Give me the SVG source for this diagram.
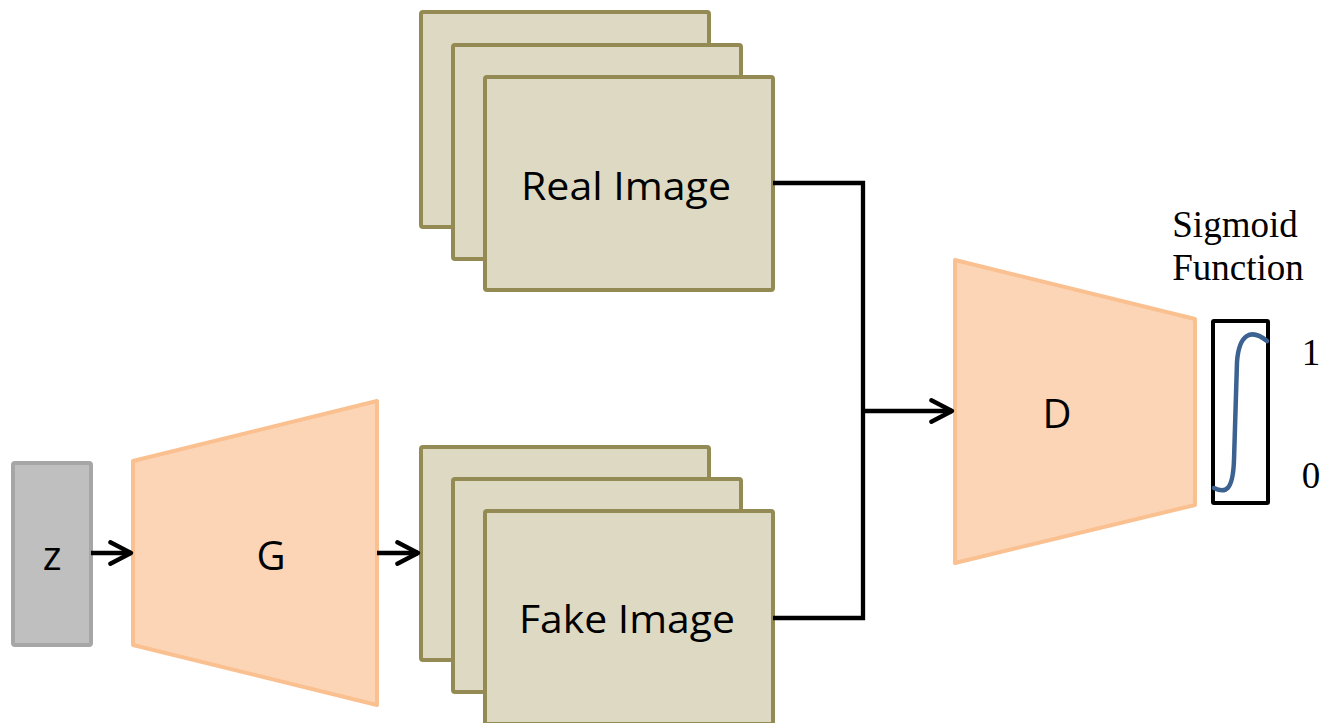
<svg xmlns="http://www.w3.org/2000/svg" width="1323" height="723" viewBox="0 0 1323 723">
  <style>
    .sans { font-family: "Open Sans", "Liberation Sans", sans-serif; fill: #000; }
    .serif { font-family: "Liberation Serif", "Times New Roman", serif; fill: #000; }
    .frame { fill: #ddd9c3; stroke: #948a54; stroke-width: 4; }
    .net { fill: #fbd5b5; stroke: #fac090; stroke-width: 4; stroke-linejoin: round; }
    .wire { fill: none; stroke: #000; stroke-width: 4.3; stroke-linejoin: miter; }
    .arrow { fill: none; stroke: #000; stroke-width: 4.3; marker-end: url(#chevron); }
  </style>
  <defs>
    <marker id="chevron" viewBox="0 0 12 12" refX="10.8" refY="6" markerWidth="6" markerHeight="6" markerUnits="strokeWidth" orient="auto">
      <path d="M1.2,1 L10.8,6 L1.2,11" fill="none" stroke="#000" stroke-width="2" stroke-linecap="round" stroke-linejoin="round"/>
    </marker>
  </defs>
  <rect width="1323" height="723" fill="#fff"/>

  <!-- latent input -->
  <g id="z">
    <rect x="13" y="463" width="78" height="182" rx="2" fill="#bfbfbf" stroke="#a6a6a6" stroke-width="4"/>
    <text x="52" y="570" class="sans" font-size="40" text-anchor="middle">z</text>
  </g>

  <!-- generator -->
  <g id="G">
    <polygon class="net" points="133,461 377,401 377,705 133,645"/>
    <text x="271" y="570" class="sans" font-size="40" text-anchor="middle">G</text>
  </g>

  <!-- stack of real images -->
  <g id="real">
    <rect class="frame" x="421" y="12" width="288" height="215" rx="2"/>
    <rect class="frame" x="453" y="45" width="288" height="214" rx="2"/>
    <rect class="frame" x="485" y="77" width="288" height="213" rx="2"/>
    <text x="626" y="200" class="sans" font-size="39" text-anchor="middle" textLength="210" lengthAdjust="spacingAndGlyphs">Real Image</text>
  </g>

  <!-- stack of generated images -->
  <g id="fake">
    <rect class="frame" x="421" y="447" width="288" height="213" rx="2"/>
    <rect class="frame" x="453" y="479" width="288" height="213" rx="2"/>
    <rect class="frame" x="485" y="511" width="288" height="213" rx="2"/>
    <text x="627" y="633" class="sans" font-size="39" text-anchor="middle" textLength="216" lengthAdjust="spacingAndGlyphs">Fake Image</text>
  </g>

  <!-- discriminator -->
  <g id="D">
    <polygon class="net" points="955,260 1195,319 1195,505 955,563"/>
    <text x="1057" y="428" class="sans" font-size="40" text-anchor="middle">D</text>
  </g>

  <!-- sigmoid output -->
  <g id="sigmoid">
    <text x="1235" y="237" class="serif" font-size="37" text-anchor="middle">Sigmoid</text>
    <text x="1238" y="280" class="serif" font-size="37" text-anchor="middle">Function</text>
    <rect x="1213" y="321" width="55" height="182" fill="#fff" stroke="#000" stroke-width="4" rx="1"/>
    <path d="M1214,488 C1226,494 1233,490 1234,460 L1237,362 C1239,334 1251,328 1267,341" fill="none" stroke="#3b6291" stroke-width="4.5" stroke-linecap="round"/>
    <text x="1311" y="365" class="serif" font-size="37" text-anchor="middle">1</text>
    <text x="1311" y="488" class="serif" font-size="37" text-anchor="middle">0</text>
  </g>

  <!-- connectors -->
  <g id="connectors">
    <line class="arrow" x1="91" y1="553" x2="131" y2="553"/>
    <line class="arrow" x1="377" y1="553" x2="418" y2="553"/>
    <polyline class="wire" points="773,183 863,183 863,618 773,618"/>
    <line class="arrow" x1="863" y1="411" x2="952" y2="411"/>
  </g>
</svg>
